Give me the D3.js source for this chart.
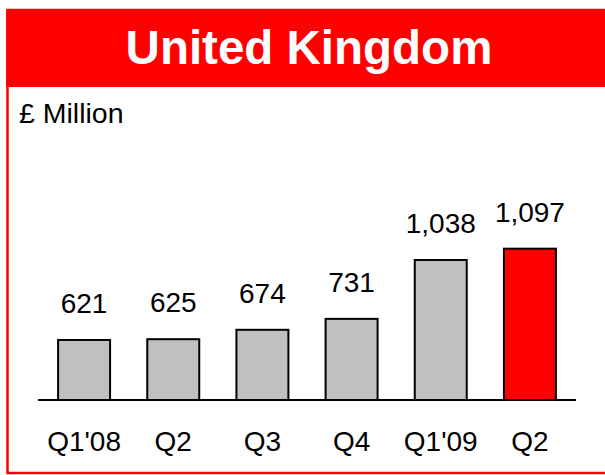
<!DOCTYPE html>
<html>
<head>
<meta charset="utf-8">
<script src="https://cdn.jsdelivr.net/npm/d3@7"></script>
<style>
  html, body { margin: 0; padding: 0; background: #fff; }
  svg { display: block; font-family: "Liberation Sans", Arial, sans-serif; }
</style>
</head>
<body>
<svg id="chart" width="605" height="475"></svg>
<script>
// Quarterly figures, £ million
const categories = ["Q1'08", "Q2", "Q3", "Q4", "Q1'09", "Q2"];
const values = [621, 625, 674, 731, 1038, 1097];
const valueLabels = ["621", "625", "674", "731", "1,038", "1,097"];
const highlightIndex = 5;

// Value axis starts above zero
const axisMin = 308;
const axisMax = 1100;

const svg = d3.select("#chart");
const W = 605, H = 475;

// Outer frame and title band
svg.append("rect")
  .attr("x", 7.5).attr("y", 10)
  .attr("width", W + 10).attr("height", 463)
  .attr("fill", "none").attr("stroke", "#ff0000").attr("stroke-width", 2.5);

svg.append("rect")
  .attr("x", 6).attr("y", 10)
  .attr("width", W - 6).attr("height", 77)
  .attr("fill", "#ff0000");

svg.append("text")
  .attr("x", 309).attr("y", 64)
  .attr("text-anchor", "middle")
  .attr("fill", "#fff")
  .attr("font-weight", "bold")
  .attr("font-size", 47.5)
  .text("United Kingdom");

svg.append("text")
  .attr("x", 19).attr("y", 123)
  .attr("fill", "#000")
  .attr("font-size", 28.5)
  .text("£ Million");

// Scales
const x = d3.scaleBand()
  .domain(d3.range(categories.length))
  .range([39.5, 574.5])
  .paddingInner(0.417)
  .paddingOuter(0.2085);

const y = d3.scaleLinear()
  .domain([axisMin, axisMax])
  .range([400, 248.1]);

const g = svg.append("g");

// Bars
g.selectAll("rect.bar")
  .data(values)
  .join("rect")
  .attr("class", "bar")
  .attr("x", (d, i) => x(i))
  .attr("y", d => y(d))
  .attr("width", x.bandwidth())
  .attr("height", d => y(axisMin) - y(d))
  .attr("fill", (d, i) => i === highlightIndex ? "#ff0000" : "#c0c0c0")
  .attr("stroke", "#000")
  .attr("stroke-width", 2);

// Value labels above bars
g.selectAll("text.val")
  .data(values)
  .join("text")
  .attr("class", "val")
  .attr("x", (d, i) => x(i) + x.bandwidth() / 2)
  .attr("y", d => y(d) - 27)
  .attr("text-anchor", "middle")
  .attr("font-size", 28)
  .attr("fill", "#000")
  .text((d, i) => valueLabels[i]);

// Baseline
g.append("line")
  .attr("x1", 38).attr("x2", 576)
  .attr("y1", y(axisMin)).attr("y2", y(axisMin))
  .attr("stroke", "#000").attr("stroke-width", 2);

// Category axis labels
const xAxis = d3.axisBottom(x)
  .tickFormat(i => categories[i])
  .tickSize(0)
  .tickPadding(0);

const axisG = svg.append("g")
  .attr("transform", `translate(0,${y(axisMin)})`)
  .call(xAxis);
axisG.select(".domain").remove();
axisG.selectAll("text")
  .attr("font-size", 28)
  .attr("font-family", "Liberation Sans, Arial, sans-serif")
  .attr("fill", "#000")
  .attr("dy", null)
  .attr("y", 51);
</script>
</body>
</html>
